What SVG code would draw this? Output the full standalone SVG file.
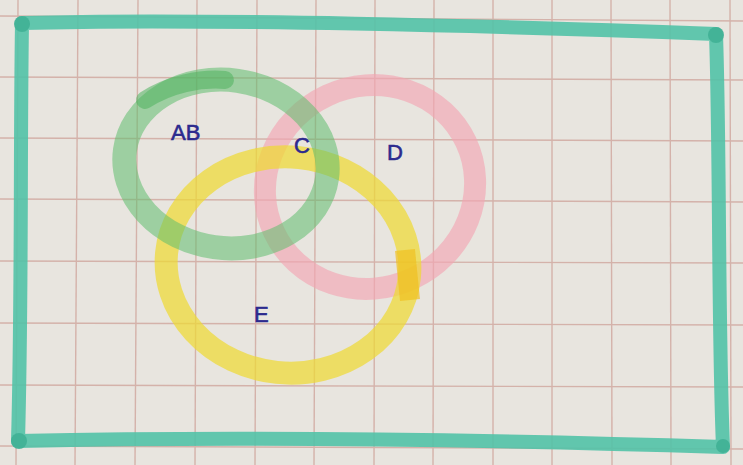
<svg xmlns="http://www.w3.org/2000/svg" width="743" height="465" viewBox="0 0 743 465">
<style>
.grid line{stroke:#d4b2aa;stroke-width:1.4}
.ring{fill:none}
.lbl{font-family:"Liberation Sans",Arial,sans-serif;font-size:22px;fill:#2c2a8e;stroke:#2c2a8e;stroke-width:0.6}
</style>
<rect width="743" height="465" fill="#e8e5df"/>
<g class="grid">
<line x1="18" y1="0" x2="16" y2="465"/>
<line x1="78" y1="0" x2="75" y2="465"/>
<line x1="138" y1="0" x2="135" y2="465"/>
<line x1="197" y1="0" x2="195" y2="465"/>
<line x1="257" y1="0" x2="255" y2="465"/>
<line x1="316" y1="0" x2="314" y2="465"/>
<line x1="375" y1="0" x2="374" y2="465"/>
<line x1="434" y1="0" x2="433" y2="465"/>
<line x1="493" y1="0" x2="493" y2="465"/>
<line x1="552" y1="0" x2="552" y2="465"/>
<line x1="611" y1="0" x2="612" y2="465"/>
<line x1="670" y1="0" x2="671" y2="465"/>
<line x1="730" y1="0" x2="731" y2="465"/>
<line x1="0" y1="16" x2="743" y2="21"/>
<line x1="0" y1="77" x2="743" y2="80"/>
<line x1="0" y1="138" x2="743" y2="141"/>
<line x1="0" y1="199" x2="743" y2="202"/>
<line x1="0" y1="261" x2="743" y2="263"/>
<line x1="0" y1="323" x2="743" y2="325"/>
<line x1="0" y1="385" x2="743" y2="387"/>
<line x1="0" y1="446" x2="743" y2="449"/>
</g>
<g id="frame">
<path d="M22,23 C200,18 500,26 716,34 C720,150 718,330 723,447 C500,440 250,436 18,441 C22,300 20,150 22,23 Z" fill="none" stroke="#52c2a7" stroke-width="14" stroke-linejoin="round" opacity="0.9"/>
<circle cx="22" cy="24" r="8" fill="#40b095" opacity="0.9"/>
<circle cx="716" cy="35" r="8" fill="#40b095" opacity="0.9"/>
<circle cx="19" cy="441" r="8" fill="#40b095" opacity="0.9"/>
<circle cx="723" cy="446" r="7" fill="#40b095" opacity="0.9"/>
</g>
<g id="set-D">
<ellipse class="ring" cx="370" cy="187" rx="106" ry="101" transform="rotate(-25 370 187)" stroke="#f2a6b4" stroke-width="22" stroke-opacity="0.65"/>
</g>
<g id="set-E">
<ellipse class="ring" cx="288" cy="265" rx="122" ry="108" transform="rotate(6 288 265)" stroke="#efd934" stroke-width="23" stroke-opacity="0.72"/>
<path class="ring" d="M405,250 L410,300" stroke="#f0c020" stroke-width="20" stroke-linecap="butt" stroke-opacity="0.7"/>
</g>
<g id="set-AB">
<ellipse class="ring" cx="226" cy="164" rx="102" ry="84" transform="rotate(8 226 164)" stroke="#5fbe6e" stroke-width="24" stroke-opacity="0.55"/>
<path class="ring" d="M145,100 C170,84 200,78 225,80" stroke="#4fb35e" stroke-width="18" stroke-linecap="round" stroke-opacity="0.55"/>
</g>
<g id="labels">
<text class="lbl" x="171" y="140">AB</text>
<text class="lbl" x="294" y="153">C</text>
<text class="lbl" x="387" y="160">D</text>
<text class="lbl" x="254" y="322">E</text>
</g>
</svg>
